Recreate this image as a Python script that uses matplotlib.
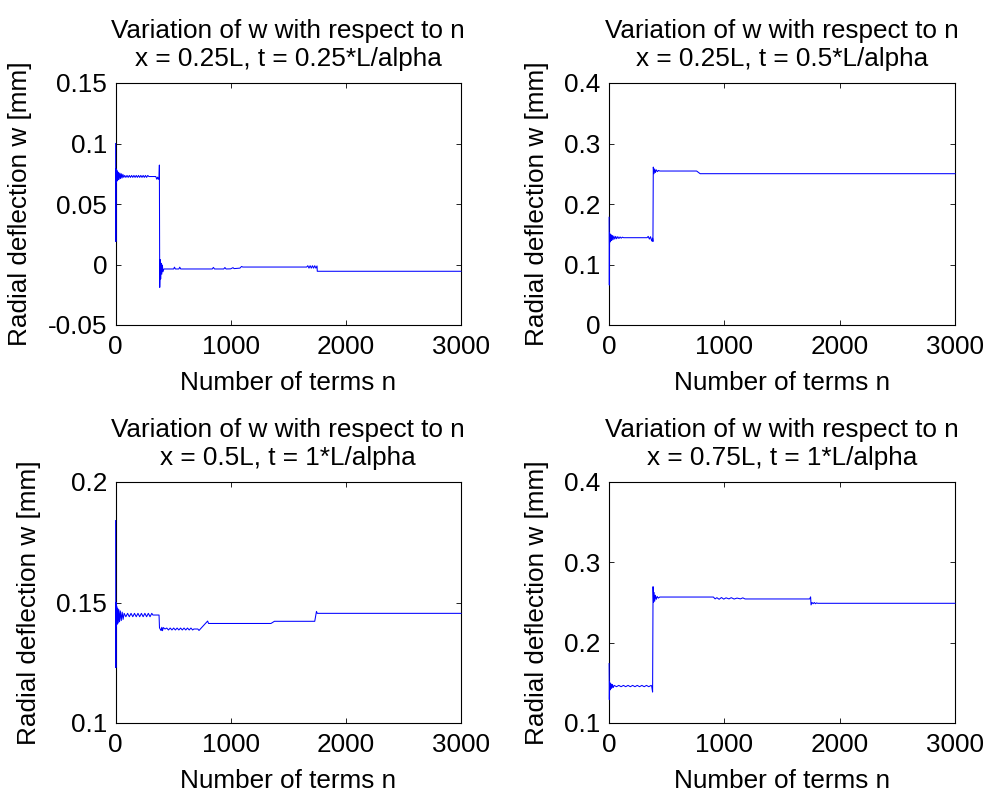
import matplotlib
matplotlib.use('Agg')
import matplotlib.pyplot as plt
from matplotlib.ticker import FuncFormatter

plt.rcParams['font.family'] = ['Liberation Sans', 'DejaVu Sans']
plt.rcParams['axes.unicode_minus'] = False

# x = 0.25L, t = 0.25*L/alpha
n1 = [1, 3, 5, 8, 11, 14, 18, 22, 27, 32, 38, 44, 50, 57, 64, 72,
      80, 90, 100, 110, 120, 130, 140, 150, 160, 170, 180, 190, 200, 210,
      220, 230, 240, 250, 260, 270, 280, 290, 350, 358, 366, 372, 378,
      381, 384, 388, 392, 397, 402, 407, 412, 420, 505, 512, 520, 550, 558,
      566, 840, 850, 860, 940, 950, 960, 1000, 1020, 1030, 1080, 1095,
      1105, 1660, 1670, 1680, 1690, 1700, 1710, 1720, 1730, 1740, 1750,
      1752, 3000]
w1 = [0.100, 0.019, 0.079, 0.068, 0.078, 0.069, 0.077, 0.070, 0.076,
      0.0705, 0.0755, 0.071, 0.075, 0.0715, 0.0745, 0.072,
      0.0736, 0.0720, 0.0736, 0.0720, 0.0736, 0.0720, 0.0736, 0.0720,
      0.0736, 0.0720, 0.0736, 0.0720, 0.0736, 0.0720, 0.0736, 0.0720,
      0.0736, 0.0720, 0.0736, 0.0720, 0.0736, 0.0727, 0.0727, 0.0705,
      0.0722, 0.0704, 0.0712, 0.0822, -0.0189, 0.004, -0.012, 0.001,
      -0.008, -0.0005, -0.006, -0.0037, -0.0037, -0.0022, -0.0037,
      -0.0037, -0.0022, -0.0037, -0.0037, -0.0024, -0.0037, -0.0037,
      -0.0025, -0.0037, -0.0036, -0.0026, -0.0034, -0.0030, -0.0016,
      -0.0021, -0.0021, -0.0010, -0.0030, -0.0010, -0.0030, -0.0010,
      -0.0030, -0.0010, -0.0030, -0.0012, -0.0056, -0.0056]

# x = 0.25L, t = 0.5*L/alpha
n2 = [1, 3, 5, 8, 11, 15, 19, 24, 29, 35, 42, 50, 58, 66, 76, 86, 96,
      106, 116, 126, 330, 340, 350, 360, 370, 378, 381, 384, 390, 396,
      402, 410, 420, 430, 440, 760, 790, 3000]
w2 = [0.178, 0.066, 0.152, 0.137, 0.150, 0.139, 0.149, 0.140, 0.148,
      0.141, 0.147, 0.142, 0.1465, 0.1425, 0.146, 0.143, 0.1455, 0.1435,
      0.1452, 0.1443, 0.1443, 0.1465, 0.142, 0.146, 0.139, 0.1435, 0.138,
      0.261, 0.250, 0.258, 0.252, 0.2565, 0.2535, 0.2555, 0.2545, 0.2545,
      0.2501, 0.2501]

# x = 0.5L, t = 1*L/alpha
n3 = [1, 3, 5, 8, 11, 15, 19, 24, 29, 35, 42, 50, 58, 66,
      75, 90, 105, 120, 135, 150, 165, 180, 195, 210, 225, 240, 255, 270,
      285, 300, 315, 325, 378, 382, 390, 396, 402, 408, 415, 430,
      445, 460, 475, 490, 505, 520, 535, 550, 565, 580, 595, 610, 625,
      640, 655, 670, 680, 715, 725, 800, 808, 1350, 1380, 1730, 1745,
      1752, 3000]
w3 = [0.184, 0.123, 0.150, 0.140, 0.1483, 0.141, 0.1475, 0.1415, 0.147,
      0.142, 0.1465, 0.1425, 0.146, 0.143,
      0.1455, 0.1441, 0.1455, 0.1441, 0.1455, 0.1441, 0.1455, 0.1441,
      0.1455, 0.1441, 0.1455, 0.1441, 0.1455, 0.1441, 0.1455, 0.1441,
      0.1455, 0.1448, 0.1448, 0.1395, 0.1388, 0.1384, 0.1397, 0.1383,
      0.1396, 0.1390, 0.1394, 0.1386, 0.1394, 0.1386, 0.1394, 0.1386,
      0.1394, 0.1386, 0.1394, 0.1386, 0.1394, 0.1386, 0.1394, 0.1386,
      0.1394, 0.1386, 0.1390, 0.1390, 0.1384, 0.1423, 0.1413, 0.1413,
      0.1422, 0.1422, 0.1463, 0.1455, 0.1455]

# x = 0.75L, t = 1*L/alpha
n4 = [1, 3, 5, 8, 11, 15, 19, 24, 30, 36,
      45, 65, 85, 105, 125, 145, 165, 185, 205, 225, 245, 265, 285, 305,
      325, 345, 365, 370, 378, 382, 386, 391, 396, 402, 410, 418, 428,
      440, 905, 920, 935, 955, 975, 995, 1015, 1040, 1060, 1085, 1110,
      1140, 1160, 1180, 1740, 1748, 1752, 1760, 1770, 1780, 1790, 1800,
      1810, 3000]
w4 = [0.174, 0.129, 0.151, 0.141, 0.1495, 0.1425, 0.1485, 0.1435, 0.148,
      0.144,
      0.1468, 0.1452, 0.1468, 0.1452, 0.1468, 0.1452, 0.1468, 0.1452,
      0.1468, 0.1452, 0.1468, 0.1452, 0.1468, 0.1452, 0.1468, 0.1452,
      0.1468, 0.146, 0.1385, 0.2697, 0.250, 0.2625, 0.2515, 0.259, 0.254,
      0.2575, 0.2555, 0.2568, 0.2568, 0.2545, 0.2560, 0.2540, 0.2562,
      0.2542, 0.2558, 0.2545, 0.2560, 0.2543, 0.2555, 0.2545, 0.2558,
      0.2544, 0.2544, 0.2570, 0.2470, 0.2500, 0.2485, 0.2500, 0.2485,
      0.2495, 0.2490, 0.2490]

subtitles = ['x = 0.25L, t = 0.25*L/alpha', 'x = 0.25L, t = 0.5*L/alpha',
             'x = 0.5L, t = 1*L/alpha', 'x = 0.75L, t = 1*L/alpha']
y_limits = [(-0.05, 0.15), (0, 0.4), (0.1, 0.2), (0.1, 0.4)]
y_ticks = [[-0.05, 0, 0.05, 0.1, 0.15], [0, 0.1, 0.2, 0.3, 0.4],
           [0.1, 0.15, 0.2], [0.1, 0.2, 0.3, 0.4]]
x_ticks = [0, 1000, 2000, 3000]

series = [(n1, w1), (n2, w2), (n3, w3), (n4, w4)]

W, H = 986, 791
fig = plt.figure(figsize=(W / 100, H / 100), dpi=100)

# axes boxes in pixels: left, top, right, bottom
boxes = [(115.5, 83, 461, 325), (609, 83, 955, 325),
         (115.5, 482, 461, 723), (609, 482, 955, 723)]

fs = 18.8
for i, (n, w) in enumerate(series):
    l, t, r, b = boxes[i]
    ax = fig.add_axes([l / W, 1 - b / H, (r - l) / W, (b - t) / H])
    # draw above the spines so the spike at n ~ 0 stays visible
    ax.plot(n, w, color='blue', lw=0.75, zorder=3, clip_on=False)
    ax.set_xlim(0, 3000)
    ax.set_ylim(*y_limits[i])
    ax.set_xticks(x_ticks)
    ax.set_yticks(y_ticks[i])
    ax.yaxis.set_major_formatter(FuncFormatter(lambda v, p: f'{v:g}'))
    ax.tick_params(direction='in', length=3.5, width=0.6, labelsize=fs,
                   top=True, right=True, pad=6)
    ax.tick_params(axis='x', pad=7.5)
    for s in ax.spines.values():
        s.set_linewidth(0.8)
    ax.set_title('Variation of w with respect to n\n' + subtitles[i],
                 fontsize=fs, pad=12, linespacing=1.25)
    ax.set_xlabel('Number of terms n', fontsize=fs, labelpad=8)
    ax.set_ylabel('Radial deflection w [mm]', fontsize=fs, labelpad=11)

plt.savefig('out.png', dpi=100)
